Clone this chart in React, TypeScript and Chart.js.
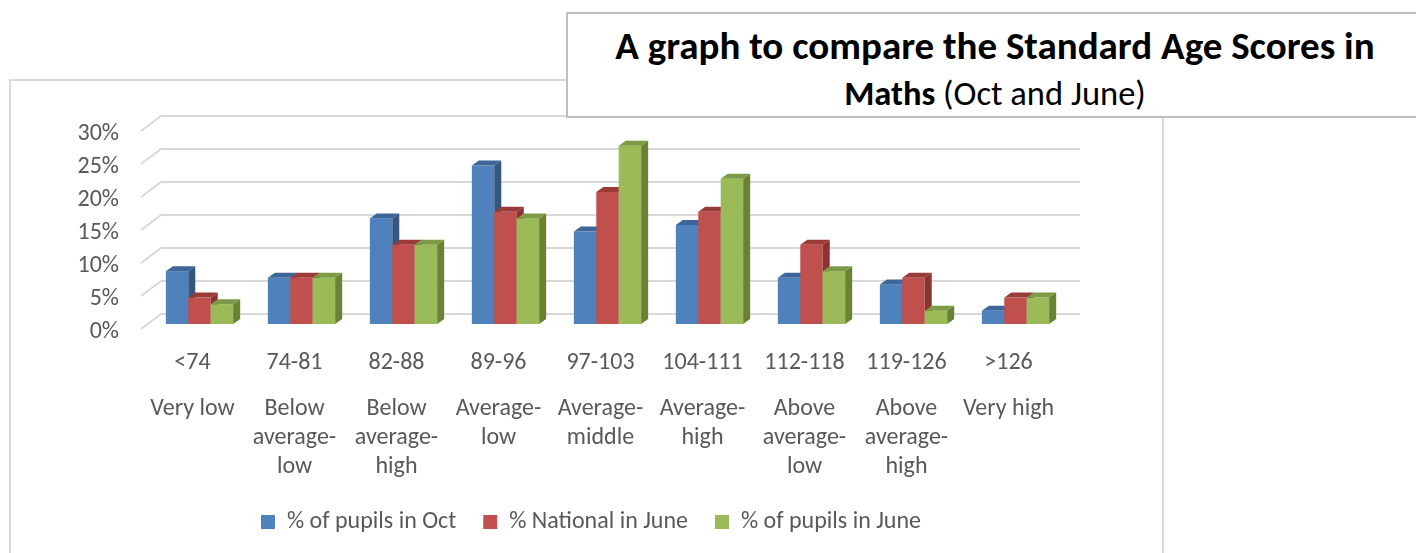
import { useEffect, useRef } from "react";
import { Chart, registerables } from "chart.js";

Chart.register(...registerables);

const RANGES = ["<74", "74-81", "82-88", "89-96", "97-103", "104-111", "112-118", "119-126", ">126"];
const BANDS = [
  ["Very low"],
  ["Below", "average-", "low"],
  ["Below", "average-", "high"],
  ["Average-", "low"],
  ["Average-", "middle"],
  ["Average-", "high"],
  ["Above", "average-", "low"],
  ["Above", "average-", "high"],
  ["Very high"],
];
const PUPILS_OCT = [8, 7, 16, 24, 14, 15, 7, 6, 2];
const NATIONAL_JUNE = [4, 7, 12, 17, 20, 17, 12, 7, 4];
const PUPILS_JUNE = [3, 7, 12, 16, 27, 22, 8, 2, 4];
const Y_TICKS = [0, 5, 10, 15, 20, 25, 30];
const SERIES_NAMES = ["% of pupils in Oct", "% National in June", "% of pupils in June"];

const FACES = [
  { front: "#4F81BD", top: "#3D679A", side: "#34577F" },
  { front: "#C0504D", top: "#9B3B38", side: "#8A3331" },
  { front: "#9BBB59", top: "#7D9A46", side: "#6A8236" },
];

const FONT = "Carlito, Lato, 'Open Sans', sans-serif";
const TEXT = "#595959";
const DX = 7;
const DY = 5;

function poly(ctx: CanvasRenderingContext2D, pts: number[][]) {
  ctx.beginPath();
  ctx.moveTo(pts[0][0], pts[0][1]);
  for (let i = 1; i < pts.length; i++) ctx.lineTo(pts[i][0], pts[i][1]);
  ctx.closePath();
  ctx.fill();
}

const bars3d = {
  id: "bars3d",
  beforeDatasetsDraw(chart: any) {
    const { ctx, chartArea, scales } = chart;
    const ys = scales.y;
    ctx.save();
    // 3D gridlines (front diagonal + back wall line)
    ctx.strokeStyle = "#D9D9D9";
    ctx.lineWidth = 2;
    ys.ticks.forEach((t: any) => {
      const p = ys.getPixelForValue(t.value);
      ctx.beginPath();
      ctx.moveTo(chartArea.left - 7.5, p + 5);
      ctx.lineTo(chartArea.left + 12.5, p - 10);
      ctx.lineTo(chartArea.right + 13.5, p - 10);
      ctx.stroke();
    });
    // y tick labels, aligned with the front end of each gridline
    ctx.fillStyle = TEXT;
    ctx.font = `24px ${FONT}`;
    ctx.textAlign = "right";
    ctx.textBaseline = "middle";
    ys.ticks.forEach((t: any) => {
      const p = ys.getPixelForValue(t.value);
      ctx.fillText(`${t.value}%`, chartArea.left - 29.5, p + 7.5);
    });
    // 3D columns
    const metas = chart.data.datasets.map((_: any, i: number) => chart.getDatasetMeta(i));
    const n = chart.data.labels.length;
    for (let i = 0; i < n; i++) {
      for (let d = 0; d < metas.length; d++) {
        const el = metas[d].data[i];
        const { x, y, base, width } = el.getProps(["x", "y", "base", "width"], true);
        const l = x - width / 2;
        const r = x + width / 2;
        const f = FACES[d];
        ctx.fillStyle = f.front;
        ctx.fillRect(l, y, width, base - y);
        ctx.fillStyle = f.top;
        poly(ctx, [[l, y], [r, y], [r + DX, y - DY], [l + DX, y - DY]]);
        ctx.fillStyle = f.side;
        poly(ctx, [[r, y], [r + DX, y - DY], [r + DX, base - DY], [r, base]]);
      }
    }
    ctx.restore();
    return false;
  },
};

export default function App() {
  const ref = useRef<HTMLCanvasElement | null>(null);

  useEffect(() => {
    if (!ref.current) return;
    const chart = new Chart(ref.current, {
      type: "bar",
      data: {
        labels: RANGES,
        datasets: [
          { label: SERIES_NAMES[0], data: PUPILS_OCT, backgroundColor: FACES[0].front },
          { label: SERIES_NAMES[1], data: NATIONAL_JUNE, backgroundColor: FACES[1].front },
          { label: SERIES_NAMES[2], data: PUPILS_JUNE, backgroundColor: FACES[2].front },
        ],
      },
      options: {
        responsive: false,
        animation: false,
        devicePixelRatio: 1,
        datasets: { bar: { categoryPercentage: 0.66, barPercentage: 1 } },
        layout: { padding: { left: 115.5, right: 349.5, top: 126, bottom: 9 } },
        scales: {
          x: {
            type: "category",
            labels: RANGES,
            offset: true,
            grid: { display: false, drawTicks: false },
            border: { display: false },
            ticks: {
              autoSkip: false,
              maxRotation: 0,
              padding: 24,
              labelOffset: -7,
              color: TEXT,
              font: { family: FONT, size: 24, lineHeight: 29 / 24 },
            },
            afterFit: (s: any) => { s.height = 58; },
          },
          x2: {
            type: "category",
            position: "bottom",
            labels: BANDS as any,
            offset: true,
            grid: { display: false, drawTicks: false },
            border: { display: false },
            ticks: {
              autoSkip: false,
              maxRotation: 0,
              padding: 12.5,
              labelOffset: -7,
              color: TEXT,
              font: { family: FONT, size: 24, lineHeight: 29 / 24 },
            },
            afterFit: (s: any) => { s.height = 101; },
          },
          y: {
            min: 0,
            max: 30,
            grid: { display: false, drawTicks: false },
            border: { display: false },
            afterBuildTicks: (s: any) => { s.ticks = Y_TICKS.map((v) => ({ value: v })); },
            ticks: { display: false },
            afterFit: (s: any) => { s.width = 33; },
          },
        },
        plugins: {
          legend: {
            position: "bottom",
            labels: {
              boxWidth: 14,
              boxHeight: 14,
              padding: 27,
              color: TEXT,
              font: { family: FONT, size: 24 },
            },
          },
          tooltip: { enabled: false },
        },
      },
      plugins: [bars3d],
    });
    return () => chart.destroy();
  }, []);

  return (
    <div style={{ position: "fixed", left: 0, top: 0, width: 1416, height: 553, background: "#fff", overflow: "hidden" }}>
      <div
        style={{
          position: "absolute",
          left: 9,
          top: 79,
          width: 1155,
          height: 520,
          border: "2px solid #D9D9D9",
          boxSizing: "border-box",
        }}
      />
      <canvas ref={ref} width={1416} height={553} style={{ position: "absolute", left: 0, top: 0, width: 1416, height: 553 }} />
      <div
        style={{
          position: "absolute",
          left: 566,
          top: 12,
          width: 858,
          height: 106,
          border: "2px solid #BFBFBF",
          boxSizing: "border-box",
          background: "#fff",
          textAlign: "center",
          fontFamily: FONT,
          color: "#000",
          paddingTop: 7.5,
        }}
      >
        <div style={{ fontWeight: 700, fontSize: 39, lineHeight: "47px", whiteSpace: "nowrap" }}>
          A graph to compare the Standard Age Scores in
        </div>
        <div style={{ fontSize: 34.5, lineHeight: "49px", whiteSpace: "nowrap" }}>
          <span style={{ fontWeight: 700 }}>Maths</span> (Oct and June)
        </div>
      </div>
    </div>
  );
}
